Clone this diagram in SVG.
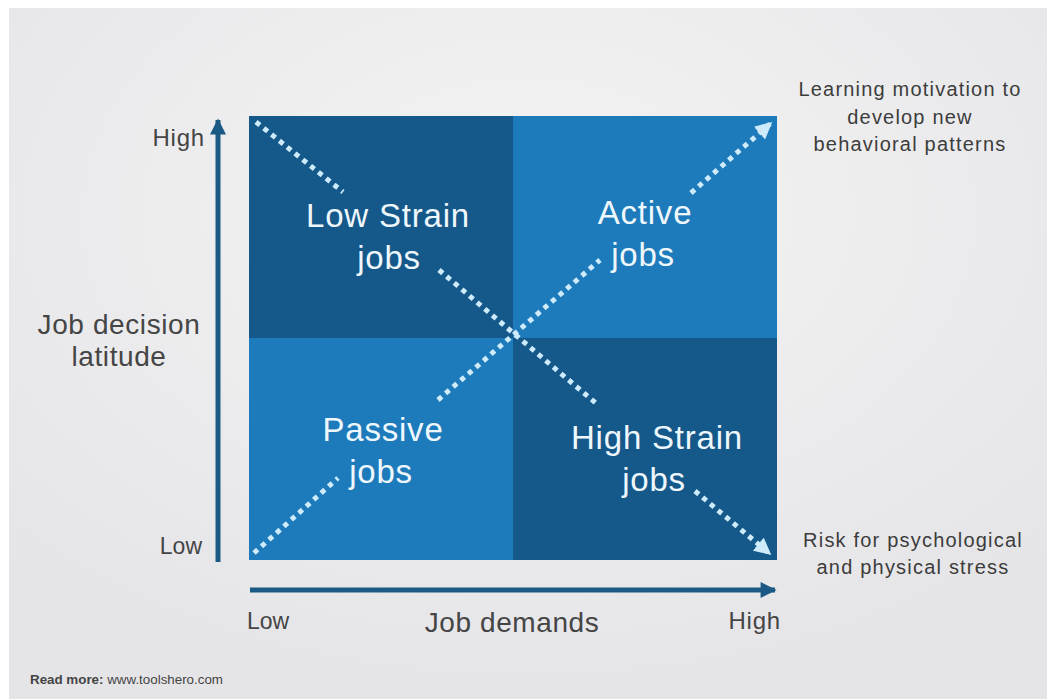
<svg xmlns="http://www.w3.org/2000/svg" width="1047" height="699" viewBox="0 0 1047 699">
<defs>
<radialGradient id="bg" cx="0.5" cy="0.3" r="0.7">
<stop offset="0" stop-color="#f4f4f4"/>
<stop offset="1" stop-color="#e5e5e8"/>
</radialGradient>
<marker id="dotArrow" viewBox="0 0 10 10" refX="9" refY="5" markerWidth="3.4" markerHeight="3.4" orient="auto" markerUnits="strokeWidth">
<path d="M0,0 L10,5 L0,10 z" fill="#cdebfa"/>
</marker>
<marker id="axisArrow" viewBox="0 0 10 10" refX="9" refY="5" markerWidth="4" markerHeight="3.2" orient="auto" markerUnits="strokeWidth">
<path d="M0,0 L10,5 L0,10 z" fill="#1a5a85"/>
</marker>
</defs>
<style>
.axis{stroke:#1a5a85;stroke-width:5;fill:none}
.dot{stroke:#cdebfa;stroke-width:5;stroke-dasharray:5 5;fill:none}
.lbl{font-family:"Liberation Sans",Arial,sans-serif;fill:#454545}
.q{font-family:"Liberation Sans",Arial,sans-serif;fill:#eef7fc;font-size:33px;letter-spacing:0.8px;text-anchor:middle}
.note{font-family:"Liberation Sans",Arial,sans-serif;fill:#3c3c3c;font-size:20px;letter-spacing:1.2px;text-anchor:middle}
.dark{fill:#15588a}
.light{fill:#1e7bbb}
</style>
<rect x="0" y="0" width="1047" height="699" fill="#ffffff"/>
<rect x="9" y="8" width="1038" height="691" fill="url(#bg)"/>

<g id="quadrants">
<rect id="low-strain" class="dark" x="249" y="116" width="264" height="222"/>
<rect id="active" class="light" x="513" y="116" width="264" height="222"/>
<rect id="passive" class="light" x="249" y="338" width="264" height="222"/>
<rect id="high-strain" class="dark" x="513" y="338" width="264" height="222"/>
</g>

<g id="axes">
<line class="axis" x1="218" y1="562" x2="218" y2="120" marker-end="url(#axisArrow)"/>
<line class="axis" x1="250" y1="590" x2="775" y2="590" marker-end="url(#axisArrow)"/>
</g>

<g id="connectors">
<line class="dot" x1="256" y1="122" x2="343" y2="192"/>
<line class="dot" x1="439" y1="270" x2="598" y2="405"/>
<line class="dot" x1="695" y1="491" x2="770" y2="554" marker-end="url(#dotArrow)"/>
<line class="dot" x1="254" y1="553" x2="338" y2="478"/>
<line class="dot" x1="438" y1="400" x2="600" y2="260"/>
<line class="dot" x1="691" y1="193" x2="771" y2="123" marker-end="url(#dotArrow)"/>
</g>

<g id="node-low-strain">
<text class="q" x="388" y="227">Low Strain</text>
<text class="q" x="389" y="269">jobs</text>
</g>
<g id="node-active">
<text class="q" x="645" y="224">Active</text>
<text class="q" x="643" y="266">jobs</text>
</g>
<g id="node-passive">
<text class="q" x="383" y="441">Passive</text>
<text class="q" x="381" y="483">jobs</text>
</g>
<g id="node-high-strain">
<text class="q" x="657" y="449">High Strain</text>
<text class="q" x="654" y="491">jobs</text>
</g>

<g id="axis-labels">
<text class="lbl" x="205" y="146" font-size="24" letter-spacing="0.8" text-anchor="end">High</text>
<text class="lbl" x="202" y="554" font-size="23" text-anchor="end">Low</text>
<text class="lbl" x="119" y="334" font-size="28" letter-spacing="0.6" text-anchor="middle">Job decision</text>
<text class="lbl" x="119" y="366" font-size="28" letter-spacing="0.6" text-anchor="middle">latitude</text>
<text class="lbl" x="247" y="629" font-size="23">Low</text>
<text class="lbl" x="512" y="632" font-size="28" letter-spacing="0.6" text-anchor="middle">Job demands</text>
<text class="lbl" x="781" y="629" font-size="24" letter-spacing="0.8" text-anchor="end">High</text>
</g>

<g id="outcome-labels">
<text class="note" x="910" y="96">Learning motivation to</text>
<text class="note" x="910" y="124">develop new</text>
<text class="note" x="910" y="151">behavioral patterns</text>
<text class="note" x="913" y="547">Risk for psychological</text>
<text class="note" x="913" y="574">and physical stress</text>
</g>

<text x="30" y="684" font-family="Liberation Sans,Arial,sans-serif" font-size="12" fill="#444" textLength="193" lengthAdjust="spacingAndGlyphs"><tspan font-weight="bold">Read more:</tspan> www.toolshero.com</text>
</svg>
